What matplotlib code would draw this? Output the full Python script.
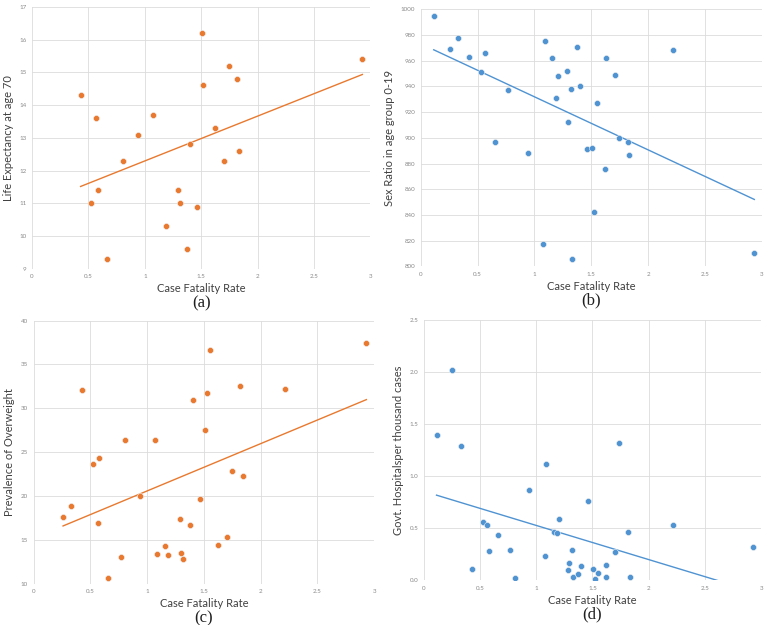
import numpy as np
import matplotlib
matplotlib.use('Agg')
import matplotlib.pyplot as plt

# (a) life expectancy at age 70
cfr_a = [0.43, 0.565, 0.526, 0.585, 0.66, 0.807, 0.94, 1.076, 1.188, 1.295, 1.315,
         1.375, 1.40, 1.466, 1.51, 1.52, 1.62, 1.70, 1.747, 1.82, 1.836, 2.93]
life_exp = [14.3, 13.6, 11.0, 11.4, 9.3, 12.3, 13.1, 13.7, 10.3, 11.4, 11.0,
            9.6, 12.8, 10.9, 16.2, 14.6, 13.3, 12.3, 15.2, 14.8, 12.6, 15.4]

# (b) sex ratio 0-19
cfr_b = [0.114, 0.258, 0.328, 0.428, 0.528, 0.563, 0.657, 0.768, 0.941, 1.073, 1.091,
         1.158, 1.188, 1.205, 1.287, 1.299, 1.32, 1.328, 1.375, 1.399, 1.463, 1.507,
         1.522, 1.554, 1.625, 1.621, 1.704, 1.745, 1.818, 1.832, 2.214, 2.933]
sex_ratio = [995, 969, 978, 963, 951, 966, 897, 937, 888, 817, 975,
             962, 931, 948, 952, 912, 938, 806, 971, 940, 891, 892,
             842, 927, 962, 876, 949, 900, 897, 887, 968, 810]

# (c) prevalence of overweight
cfr_c = [0.259, 0.326, 0.426, 0.524, 0.565, 0.579, 0.656, 0.768, 0.806, 0.938, 1.07,
         1.088, 1.159, 1.188, 1.288, 1.297, 1.318, 1.376, 1.40, 1.465, 1.509, 1.524,
         1.553, 1.624, 1.70, 1.747, 1.82, 1.841, 2.218, 2.932]
overweight = [17.6, 18.9, 32.1, 23.7, 16.9, 24.3, 10.7, 13.0, 26.4, 20.0, 26.4,
              13.4, 14.3, 13.3, 17.4, 13.5, 12.8, 16.7, 31.0, 19.7, 27.5, 31.7,
              36.6, 14.4, 15.3, 22.9, 32.5, 22.3, 32.2, 37.5]

# (d) govt. hospitals per thousand cases
cfr_d = [0.113, 0.252, 0.327, 0.431, 0.523, 0.564, 0.582, 0.659, 0.766, 0.808, 0.936,
         1.075, 1.087, 1.158, 1.182, 1.203, 1.283, 1.295, 1.316, 1.325, 1.372, 1.399,
         1.464, 1.506, 1.524, 1.553, 1.616, 1.622, 1.696, 1.74, 1.818, 1.835, 2.213, 2.925]
hospitals = [1.39, 2.02, 1.29, 0.11, 0.56, 0.53, 0.28, 0.43, 0.29, 0.02, 0.87,
             0.23, 1.12, 0.465, 0.455, 0.59, 0.10, 0.163, 0.29, 0.032, 0.061, 0.138,
             0.76, 0.106, 0.013, 0.071, 0.144, 0.032, 0.269, 1.32, 0.465, 0.026, 0.526, 0.317]

ORANGE = '#E8792F'
BLUE = '#4F93D2'

plt.rcParams['font.family'] = ['Lato', 'DejaVu Sans']

fig = plt.figure(figsize=(7.65, 6.25), dpi=100)
fig.patch.set_facecolor('white')


def panel(rect, x, y, color, ylabel, ylim, ystep, tag):
    ax = fig.add_axes(rect)
    ax.scatter(x, y, s=19, color=color, edgecolors='#f0f0f0', linewidths=0.4, zorder=3)
    # linear trendline like in excel
    k, b = np.polyfit(x, y, 1)
    xx = np.array([min(x), max(x)])
    ax.plot(xx, k * xx + b, color=color, linewidth=1.0, zorder=2)
    ax.set_xlim(0, 3)
    ax.set_ylim(*ylim)
    ax.set_xticks(np.arange(0, 3.01, 0.5))
    ax.set_xticklabels(['0', '0.5', '1', '1.5', '2', '2.5', '3'])
    ax.set_yticks(np.arange(ylim[0], ylim[1] + ystep / 2, ystep))
    ax.grid(color='#dcdcdc', linewidth=0.6)
    ax.set_axisbelow(True)
    for s in ax.spines.values():
        s.set_visible(False)
    ax.tick_params(length=0, labelsize=4.5, colors='#8a8a8a', pad=4)
    ax.set_xlabel('Case Fatality Rate', fontsize=8, color='#404040', labelpad=3)
    ax.set_ylabel(ylabel, fontsize=8, color='#404040', labelpad=4)
    ax.text(0.5, -0.1, tag, transform=ax.transAxes, ha='center', va='top',
            fontsize=12, family='Liberation Serif', color='#202020')
    return ax


panel([0.042, 0.570, 0.442, 0.419], cfr_a, life_exp, ORANGE,
      'Life Expectancy at age 70', (9, 17), 1, '(a)')
panel([0.550, 0.574, 0.446, 0.411], cfr_b, sex_ratio, BLUE,
      'Sex Ratio in age group 0-19', (800, 1000), 20, '(b)')
panel([0.044, 0.066, 0.445, 0.421], cfr_c, overweight, ORANGE,
      'Prevalence of Overweight', (10, 40), 5, '(c)')
panel([0.554, 0.072, 0.441, 0.416], cfr_d, hospitals, BLUE,
      'Govt. Hospitalsper thousand cases', (0, 2.5), 0.5, '(d)')

plt.savefig('out.png', dpi=100)
